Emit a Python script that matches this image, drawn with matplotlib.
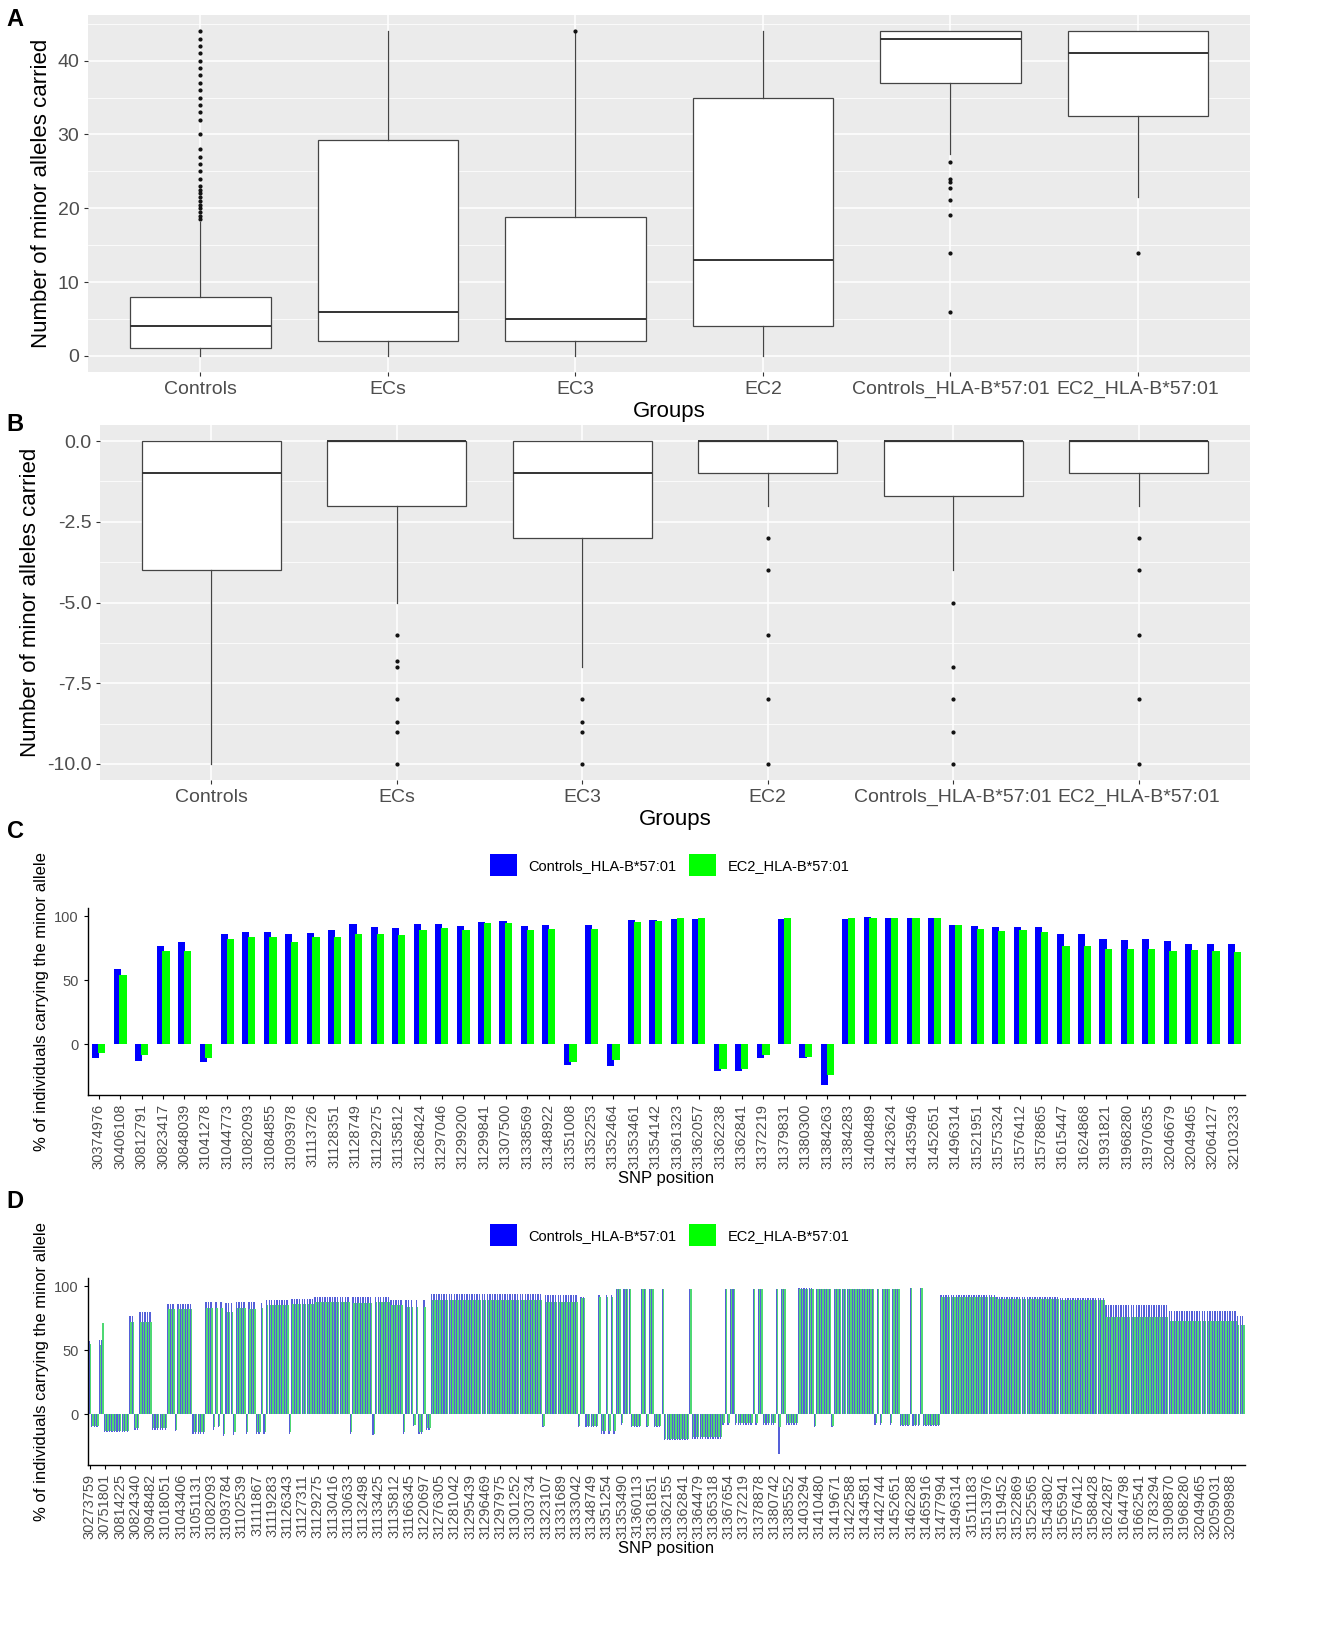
import numpy as np
import matplotlib.pyplot as plt
from matplotlib.patches import Patch

plt.rcParams['font.family'] = ['Liberation Sans', 'DejaVu Sans']

groups = ['Controls', 'ECs', 'EC3', 'EC2', 'Controls_HLA-B*57:01', 'EC2_HLA-B*57:01']

# panel A: boxplot summaries (number of minor alleles carried)
a_q1 = [1, 2, 2, 4, 37, 32.5]
a_med = [4, 6, 5, 13, 43, 41]
a_q3 = [8, 29.2, 18.8, 34.9, 44, 44]
a_lo = [0, 0, 0, 0, 27.3, 21.5]
a_hi = [18.2, 44, 44, 44, 44, 44]
a_fliers = [[18.5, 19, 19.5, 20, 20.5, 21, 21.5, 22, 22.5, 23, 24, 25, 26, 27, 28,
             30, 32, 33, 34, 35, 36, 37, 38, 39, 40, 41, 42, 43, 44],
            [], [44], [],
            [26.3, 23.9, 23.6, 22.8, 21.1, 19.1, 13.9, 6],
            [13.9]]

# panel B: boxplot summaries
b_q1 = [-4, -2, -3, -1, -1.7, -1]
b_med = [-1, 0, -1, 0, 0, 0]
b_q3 = [0, 0, 0, 0, 0, 0]
b_lo = [-10, -5, -7, -2, -4, -2]
b_hi = [0, 0, 0, 0, 0, 0]
b_fliers = [[], [-6, -6.8, -7, -8, -8.7, -9, -10], [-8, -8.7, -9, -10],
            [-3, -4, -6, -8, -10], [-5, -7, -8, -9, -10], [-3, -4, -6, -8, -10]]

# panel C: % carrying minor allele per SNP
c_snps = ['30374976', '30406108', '30812791', '30823417', '30848039', '31041278',
          '31044773', '31082093', '31084855', '31093978', '31113726', '31128351',
          '31128749', '31129275', '31135812', '31268424', '31297046', '31299200',
          '31299841', '31307500', '31338569', '31348922', '31351008', '31352253',
          '31352464', '31353461', '31354142', '31361323', '31362057', '31362238',
          '31362841', '31372219', '31379831', '31380300', '31384263', '31384283',
          '31408489', '31423624', '31435946', '31452651', '31496314', '31521951',
          '31575324', '31576412', '31578865', '31615447', '31624868', '31931821',
          '31968280', '31970635', '32046679', '32049465', '32064127', '32103233']
c_ctrl = [-11, 59, -13, 77, 80, -14, 86.5, 88, 88, 86, 87, 89,
          94, 92, 90.5, 93.6, 94, 92.6, 95.6, 96.3, 92.6, 93.4, -16.4, 93.4,
          -17, 96.8, 97, 98, 98, -21, -20.6, -10.5, 98, -10.5, -32, 98,
          99.7, 98.5, 99, 98.5, 93.4, 92.4, 91.4, 92, 92, 86.5, 85.8, 82.6,
          81.6, 82.6, 80.6, 78.7, 78, 78]
c_ec2 = [-6.6, 54, -8, 72.5, 72.5, -10.8, 82, 84, 84, 80, 84, 84,
         86.5, 86.5, 85, 89, 90.5, 89, 94.4, 94.4, 89, 90, -14, 90.4,
         -12, 95.6, 96.6, 98.5, 98.5, -19, -19, -8, 98.5, -9.6, -23.8, 98.5,
         98.5, 98.5, 98.5, 98.5, 93, 90, 88.7, 89, 87.7, 76.7, 76.7, 74.8,
         74.3, 74.3, 72.8, 73.5, 73, 72]

# panel D: runs of consecutive SNPs (length, controls, EC2)
d_run_len = [1, 3, 1, 1, 10, 2, 2, 5, 6, 3,
             1, 6, 5, 3, 1, 1, 1, 1, 1, 3,
             1, 4, 1, 3, 2, 1, 1, 9, 1, 9,
             14, 1, 8, 1, 6, 5, 1, 3, 1, 1,
             2, 1, 2, 44, 1, 13, 1, 2, 5, 1,
             2, 1, 1, 1, 1, 2, 1, 3, 4, 2,
             1, 2, 3, 1, 10, 1, 12, 1, 1, 1,
             2, 7, 1, 1, 2, 5, 1, 1, 2, 5,
             6, 1, 6, 1, 16, 1, 1, 1, 3, 1,
             3, 4, 1, 3, 1, 7, 22, 25, 18, 25,
             27, 3]
d_run_ctrl = [57, -10, 58, 58, -14, 77, -12, 80, -12, 86,
              -13, 86, -15, 88, -12, 88, -10, 88, -17, 87,
              -16, 88, -15, 88, -15, 87, -15, 89, -15, 90,
              92, -15, 92, -16, 92, 89, -15, 89, -9, 89,
              -15, 89, -12, 94, -10, 93, -10, 92, -10, 93,
              -15, 93, -15, 93, -15, 98, -8, 98, -10, 98,
              -10, 98, -10, 98, -20, 98, -19, -8, 98, -8,
              98, -8, 98, -8, 98, -8, 98, -31, 98, -8,
              99, -10, 98, -10, 98, -8, 98, -8, 98, -8,
              98, -9, 99, -9, 99, -9, 93, 92, 91, 85,
              81, 77]
d_run_ec2 = [55, -9, 54, 71, -13, 72, -11, 72, -11, 82,
             -12, 82, -14, 83, -10, 83, -9, 83, -15, 80,
             -14, 83, -14, 82, -14, 83, -14, 85, -14, 86,
             88, -14, 87, -15, 88, 85, -14, 84, -8, 84,
             -14, 84, -11, 89, -9, 88, -9, 91, -9, 92,
             -13, 92, -13, 92, -13, 98, -7, 98, -9, 98,
             -9, 98, -9, 98, -19, 98, -18, -7, 98, -7,
             98, -7, 98, -7, 98, -7, 98, -10, 98, -7,
             98, -9, 98, -9, 98, -7, 98, -7, 98, -7,
             98, -8, 99, -8, 99, -8, 92, 90, 89, 76,
             73, 70]
d_labels = ['30273759', '30751801', '30814225', '30824340', '30948482', '31018051',
            '31043406', '31051131', '31082093', '31093784', '31102539', '31111867',
            '31119283', '31126343', '31127311', '31129275', '31130416', '31130633',
            '31132498', '31133425', '31135812', '31166345', '31220697', '31276305',
            '31281042', '31295439', '31296469', '31297975', '31301252', '31303734',
            '31323107', '31331689', '31333042', '31348749', '31351254', '31353490',
            '31360113', '31361851', '31362155', '31362841', '31364479', '31365318',
            '31367654', '31372219', '31378878', '31380742', '31385552', '31403294',
            '31410480', '31419671', '31422588', '31434581', '31442744', '31452651',
            '31462288', '31465916', '31477994', '31496314', '31511183', '31513976',
            '31519452', '31522869', '31525565', '31543802', '31565941', '31576412',
            '31588428', '31624287', '31644798', '31662541', '31783294', '31908870',
            '31968280', '32049465', '32059031', '32098988']
d_label_step = 6

BLUE = '#0000FF'
GREEN = '#00FF00'
GREY_TXT = '#4D4D4D'


def box_panel(ax, q1, med, q3, lo, hi, fliers):
    stats = []
    for i in range(len(groups)):
        stats.append(dict(q1=q1[i], med=med[i], q3=q3[i], whislo=lo[i], whishi=hi[i],
                          fliers=fliers[i]))
    pos = np.arange(1, len(groups) + 1)
    ax.bxp(stats, positions=pos, widths=0.75, patch_artist=True, showcaps=False,
           boxprops=dict(facecolor='white', edgecolor='#444444', lw=0.9),
           whiskerprops=dict(color='#444444', lw=0.9),
           medianprops=dict(color='#333333', lw=1.4),
           flierprops=dict(marker='o', markersize=2.0, markerfacecolor='#111111',
                           markeredgecolor='#111111', lw=0))
    ax.set_facecolor('#EBEBEB')
    for s in ax.spines.values():
        s.set_visible(False)
    ax.set_xlim(0.4, len(groups) + 0.6)
    ax.set_xticks(pos)
    ax.set_xticklabels(groups)
    ax.grid(which='major', color='white', lw=1.1)
    ax.grid(which='minor', axis='y', color='white', lw=0.55)
    ax.set_axisbelow(True)
    ax.tick_params(which='major', length=2.75, color='#333333', labelsize=14,
                   labelcolor=GREY_TXT)
    ax.tick_params(which='minor', length=0)
    ax.set_xlabel('Groups', fontsize=16, labelpad=2)
    ax.set_ylabel('Number of minor alleles carried', fontsize=16, labelpad=4)


def bar_panel(ax, ctrl, ec2, w_c, w_e, off_c, off_e, col_c, col_e):
    x = np.arange(len(ctrl))
    ax.bar(x + off_c, ctrl, w_c, color=col_c, lw=0)
    ax.bar(x + off_e, ec2, w_e, color=col_e, lw=0)
    ax.set_ylim(-39.5, 106.5)
    ax.set_yticks([0, 50, 100])
    for side in ['top', 'right']:
        ax.spines[side].set_visible(False)
    ax.spines['left'].set_linewidth(1.0)
    ax.spines['bottom'].set_linewidth(1.0)
    ax.tick_params(axis='both', length=3, width=0.8, color='black',
                   labelsize=10.5, labelcolor=GREY_TXT)
    ax.tick_params(axis='x', labelrotation=90)
    ax.set_xlabel('SNP position', fontsize=12, labelpad=1)
    ax.set_ylabel('% of individuals carrying the minor allele', fontsize=12)


fig = plt.figure(figsize=(13.21, 16.46), dpi=100)

# A
axA = fig.add_axes([0.0666, 0.774, 0.880, 0.2169])
box_panel(axA, a_q1, a_med, a_q3, a_lo, a_hi, a_fliers)
axA.set_ylim(-2.2, 46.2)
axA.set_yticks([0, 10, 20, 30, 40])
axA.set_yticks([5, 15, 25, 35, 45], minor=True)

# B
axB = fig.add_axes([0.0757, 0.5261, 0.8706, 0.2157])
box_panel(axB, b_q1, b_med, b_q3, b_lo, b_hi, b_fliers)
axB.set_ylim(-10.5, 0.5)
axB.set_yticks([-10, -7.5, -5, -2.5, 0])
axB.set_yticklabels(['-10.0', '-7.5', '-5.0', '-2.5', '0.0'])
axB.set_yticks([-8.75, -6.25, -3.75, -1.25], minor=True)

# C
axC = fig.add_axes([0.0666, 0.3348, 0.8759, 0.1136])
bar_panel(axC, c_ctrl, c_ec2, 0.33, 0.34, -0.13, 0.14, BLUE, GREEN)
axC.set_xlim(-0.5, len(c_snps) - 0.5)
axC.set_xticks(np.arange(len(c_snps)))
axC.set_xticklabels(c_snps)

# D (very thin bars: drawn in the softened tones they take on at this density)
d_ctrl = np.repeat(d_run_ctrl, d_run_len)
d_ec2 = np.repeat(d_run_ec2, d_run_len)
axD = fig.add_axes([0.0666, 0.1100, 0.8759, 0.1136])
bar_panel(axD, d_ctrl, d_ec2, 0.55, 0.55, -0.2, 0.22, '#5560D8', '#4FD873')
axD.set_xlim(-0.7, len(d_ctrl) - 0.3)
d_ticks = np.arange(len(d_labels)) * d_label_step
axD.set_xticks(d_ticks)
axD.set_xticklabels(d_labels)

handles = [Patch(facecolor=BLUE), Patch(facecolor=GREEN)]
names = ['Controls_HLA-B*57:01', 'EC2_HLA-B*57:01']
for yy in [0.4745, 0.2497]:
    fig.legend(handles, names, loc='center', bbox_to_anchor=(0.507, yy), ncol=2,
               frameon=False, fontsize=10.5, handlelength=1.8, handleheight=1.9,
               handletextpad=0.8, columnspacing=0.9)

for lab, yy in [('A', 0.995), ('B', 0.749), ('C', 0.502), ('D', 0.277)]:
    fig.text(0.005, yy, lab, fontsize=17, fontweight='bold', va='top', ha='left')

fig.savefig('out.png', dpi=100)
